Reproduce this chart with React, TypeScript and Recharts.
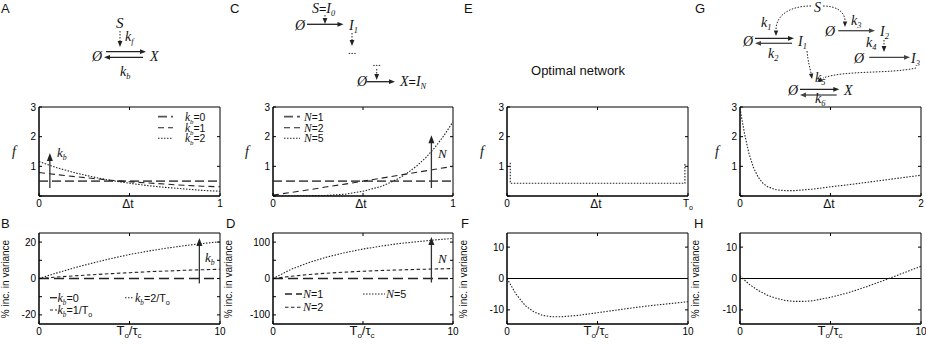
import { LineChart, Line, XAxis, YAxis, ReferenceLine, ReferenceArea } from 'recharts';

// ---------------- data ----------------
// A: f(Δt) for three k_b values
const dtA = [0, 0.1, 0.2, 0.3, 0.4, 0.5, 0.6, 0.7, 0.8, 0.9, 1];
const fA_kb0 = [0.5, 0.5, 0.5, 0.5, 0.5, 0.5, 0.5, 0.5, 0.5, 0.5, 0.5];
const fA_kb1 = [0.79, 0.72, 0.65, 0.59, 0.53, 0.48, 0.44, 0.4, 0.36, 0.33, 0.31];
const fA_kb2 = [1.16, 0.95, 0.78, 0.64, 0.52, 0.43, 0.35, 0.29, 0.24, 0.19, 0.16];

// B: % increase in variance vs To/τc
const tB = [0, 1, 2, 3, 4, 5, 6, 7, 8, 9, 10];
const vB_kb0 = [0, 0, 0, 0, 0, 0, 0, 0, 0, 0, 0];
const vB_kb1 = [0, 0.8, 1.5, 2.1, 2.7, 3.2, 3.7, 4.1, 4.5, 4.8, 5.1];
const vB_kb2 = [0, 3.1, 6.0, 8.6, 11.0, 13.2, 15.0, 16.6, 18.0, 19.2, 20.2];

// C: f(Δt) for cascades of length N
const dtC = [0, 0.1, 0.2, 0.3, 0.4, 0.5, 0.6, 0.7, 0.8, 0.9, 1];
const fC_N1 = [0.5, 0.5, 0.5, 0.5, 0.5, 0.5, 0.5, 0.5, 0.5, 0.5, 0.5];
const fC_N2 = [0.03, 0.12, 0.21, 0.31, 0.4, 0.5, 0.6, 0.7, 0.8, 0.9, 1.0];
const dtC5 = [0, 0.1, 0.2, 0.3, 0.4, 0.5, 0.6, 0.65, 0.7, 0.75, 0.8, 0.85, 0.9, 0.95, 1];
const fC_N5 = [0, 0, 0.01, 0.02, 0.06, 0.16, 0.32, 0.45, 0.6, 0.79, 1.02, 1.3, 1.64, 2.04, 2.5];

// D
const tD = [0, 1, 2, 3, 4, 5, 6, 7, 8, 9, 10];
const vD_N1 = [0, 0, 0, 0, 0, 0, 0, 0, 0, 0, 0];
const vD_N2 = [0, 6, 11, 14.5, 17.5, 20, 22, 23.5, 25, 26.2, 27.3];
const vD_N5 = [0, 25, 44, 59, 71, 81, 89, 96, 101, 106, 110];

// E: optimal network
const dtE = [0.018, 0.018, 0.983, 0.983];
const fE = [1.12, 0.43, 0.43, 1.12];

// F
const tF = [0, 0.5, 1, 1.5, 2, 2.5, 3, 4, 5, 6, 7, 8, 9, 10];
const vF = [0, -5, -8.6, -10.7, -11.8, -12.2, -12.2, -11.7, -10.9, -10.1, -9.3, -8.6, -8, -7.4];

// G
const dtG = [0, 0.05, 0.1, 0.15, 0.2, 0.25, 0.3, 0.4, 0.5, 0.6, 0.8, 1, 1.2, 1.4, 1.6, 1.8, 2];
const fG = [2.95, 2.1, 1.42, 0.95, 0.64, 0.44, 0.32, 0.21, 0.18, 0.18, 0.23, 0.31, 0.38, 0.46, 0.54, 0.62, 0.7];

// H
const tH = [0, 0.5, 1, 1.5, 2, 2.5, 3, 3.5, 4, 5, 6, 7, 8, 9, 10];
const vH = [0.8, -1.8, -3.8, -5.3, -6.3, -7, -7.3, -7.3, -7.1, -6, -4.5, -2.6, -0.5, 1.7, 3.9];

// arrows drawn inside the plots (data coords)
const arrowA = [{ x: 0.06, y: 0.27 }, { x: 0.06, y: 1.45 }];
const arrowB = [{ x: 8.86, y: -2.7 }, { x: 8.86, y: 22.3 }];
const arrowC = [{ x: 0.88, y: 0.27 }, { x: 0.88, y: 2.05 }];
const arrowD = [{ x: 8.8, y: -11 }, { x: 8.8, y: 114 }];

// ticks
const ticksF = [0, 1, 2, 3];
const ticksDt = [0, 0.5, 1];
const ticksDtG = [0, 1, 2];
const ticksT = [0, 5, 10];
const ticksB = [-20, -10, 0, 10, 20];
const ticksD = [-100, -50, 0, 50, 100];
const ticksFH = [-10, 0, 10];

// ---------------- drawing ----------------
const SANS = 'Liberation Sans, Arial, sans-serif';
const SERIF = 'Liberation Serif, Times New Roman, serif';
const INK = '#222';
const DOT = '1.5 1.5';

const YW = 34, XH = 22, MT = 4, MR = 8;
const TICK = 3; // px, inner tick length

const zip = (xs: number[], ys: number[]) => xs.map((x, i) => ({ x, y: ys[i] }));

type Series = { xs: number[]; ys: number[]; stroke: string; width: number; dash?: string };

const ArrowShape = (p: any) => {
  const { x1, y1, x2, y2 } = p;
  return (
    <g>
      <line x1={x1} y1={y1} x2={x2} y2={y2 + 6} stroke="#333" strokeWidth={1.3} />
      <polygon points={`${x2},${y2} ${x2 - 3},${y2 + 8} ${x2 + 3},${y2 + 8}`} fill="#222" />
    </g>
  );
};

function Plot(props: any) {
  const { left, top, w, h, xDom, yDom, xTicks, yTicks, xLab, yLab, series, arrow, zero } = props;
  const xTick = (p: any) => {
    const lab = xLab[p.payload.value];
    if (lab == null) return <g />;
    return (
      <text x={p.x} y={p.y} dy="0.71em" textAnchor="middle" fontSize={10} fontFamily={SANS} fill="#000">
        {lab}
      </text>
    );
  };
  const yTick = (p: any) => {
    const v = p.payload.value;
    if (!yLab.includes(v)) return <g />;
    return (
      <text x={p.x} y={p.y} dy="0.35em" textAnchor="end" fontSize={10} fontFamily={SANS} fill="#000">
        {String(v)}
      </text>
    );
  };
  // inner tick marks on the top and right edges (MATLAB box style)
  const dy = ((yDom[1] - yDom[0]) / h) * TICK;
  const dx = ((xDom[1] - xDom[0]) / w) * TICK;
  const topTicks = xTicks.filter((t: number) => t > xDom[0] && t < xDom[1]);
  const rightTicks = yTicks.filter((t: number) => t > yDom[0] && t < yDom[1]);
  return (
    <div style={{ position: 'absolute', left: left - YW, top: top - MT }}>
      <LineChart width={YW + w + MR} height={MT + h + XH} margin={{ top: MT, right: MR, bottom: 0, left: 0 }}>
        <XAxis dataKey="x" type="number" domain={xDom} ticks={xTicks} interval={0} allowDataOverflow
          height={XH} tickSize={-TICK} tickMargin={7} stroke="#000" tick={xTick} />
        <YAxis type="number" domain={yDom} ticks={yTicks} interval={0} allowDataOverflow
          width={YW} tickSize={-TICK} tickMargin={6} stroke="#000" tick={yTick} />
        <ReferenceArea x1={xDom[0]} x2={xDom[1]} y1={yDom[0]} y2={yDom[1]} fill="none" fillOpacity={0}
          stroke="#000" strokeWidth={1} ifOverflow="visible" />
        {topTicks.map((t: number) => (
          <ReferenceLine key={'t' + t} segment={[{ x: t, y: yDom[1] }, { x: t, y: yDom[1] - dy }]} stroke="#000" />
        ))}
        {rightTicks.map((t: number) => (
          <ReferenceLine key={'r' + t} segment={[{ x: xDom[1], y: t }, { x: xDom[1] - dx, y: t }]} stroke="#000" />
        ))}
        {zero && <ReferenceLine y={0} stroke="#000" strokeWidth={1} />}
        {series.map((s: Series, i: number) => (
          <Line key={i} data={zip(s.xs, s.ys)} dataKey="y" type="linear" dot={false} activeDot={false}
            isAnimationActive={false} stroke={s.stroke} strokeWidth={s.width} strokeDasharray={s.dash} />
        ))}
        {arrow && <ReferenceLine segment={arrow} shape={ArrowShape} ifOverflow="visible" />}
      </LineChart>
    </div>
  );
}

// text with italic symbols / subscripts
type Part = [string, 'i' | 'sub' | 'n' | 'nsub'];
function Rich({ x, y, parts, size = 14, anchor = 'start' }: { x: number; y: number; parts: Part[]; size?: number; anchor?: any }) {
  let off = 0;
  return (
    <text x={x} y={y} textAnchor={anchor} fill="#111">
      {parts.map(([t, k], i) => {
        const isSub = k === 'sub' || k === 'nsub';
        const serif = k === 'i' || k === 'sub';
        const target = isSub ? 3 : 0;
        const d = target - off;
        off = target;
        return (
          <tspan key={i} dy={d} fontFamily={serif ? SERIF : SANS} fontStyle={serif ? 'italic' : 'normal'}
            fontSize={isSub ? size * 0.6 : k === 'n' ? size * 0.9 : size}>
            {t}
          </tspan>
        );
      })}
    </text>
  );
}

function headPts(tx: number, ty: number, fx: number, fy: number, len = 6, wid = 2.4) {
  const dx = tx - fx, dy = ty - fy;
  const L = Math.hypot(dx, dy) || 1;
  const ux = dx / L, uy = dy / L;
  const bx = tx - ux * len, by = ty - uy * len;
  return `${tx},${ty} ${bx - uy * wid},${by + ux * wid} ${bx + uy * wid},${by - ux * wid}`;
}

function Arr({ x1, y1, x2, y2, dotted, c = INK }: any) {
  const L = Math.hypot(x2 - x1, y2 - y1);
  const ex = x2 - ((x2 - x1) / L) * 5, ey = y2 - ((y2 - y1) / L) * 5;
  return (
    <g>
      <line x1={x1} y1={y1} x2={ex} y2={ey} stroke={c} strokeWidth={dotted ? 1 : 1.3} strokeDasharray={dotted ? DOT : undefined} />
      <polygon points={headPts(x2, y2, x1, y1)} fill={c} />
    </g>
  );
}

function CurveArr({ d, tip, from }: { d: string; tip: [number, number]; from: [number, number] }) {
  return (
    <g>
      <path d={d} fill="none" stroke={INK} strokeWidth={1} strokeDasharray={DOT} />
      <polygon points={headPts(tip[0], tip[1], from[0], from[1], 5.5, 2.2)} fill={INK} />
    </g>
  );
}

const kb = (tail: string): Part[] => [['k', 'i'], ['b', 'sub'], [tail, 'n']];
const To: Part[] = [['T', 'n'], ['o', 'nsub']];

function TauLabel({ cx }: { cx: number }) {
  return (
    <text x={cx} y={335} textAnchor="middle" fontFamily={SANS} fontSize={13} fill="#111">
      T<tspan fontSize={8} dy={3}>o</tspan>
      <tspan dy={-3}>/τ</tspan>
      <tspan fontSize={8} dy={3}>c</tspan>
    </text>
  );
}

function VarLabel({ x }: { x: number }) {
  return (
    <text x={x} y={279} transform={`rotate(-90 ${x} 279)`} textAnchor="middle" fontFamily={SANS} fontSize={10} fill="#111">
      % inc. in variance
    </text>
  );
}

function Overlay() {
  const L = (p: any) => <text fontFamily={SANS} fontSize={13} fill="#111" {...p} />;
  return (
    <svg width={926} height={347} style={{ position: 'absolute', left: 0, top: 0, pointerEvents: 'none' }}>
      {/* panel letters */}
      <L x={1} y={13}>A</L>
      <L x={230} y={13}>C</L>
      <L x={464} y={13}>E</L>
      <L x={695} y={13}>G</L>
      <L x={1} y={228}>B</L>
      <L x={226} y={228}>D</L>
      <L x={461} y={228}>F</L>
      <L x={694} y={228}>H</L>

      {/* A diagram */}
      <Rich x={116} y={28} parts={[['S', 'i']]} size={15} />
      <Arr x1={120} y1={31} x2={120} y2={47} dotted />
      <Rich x={125} y={41} parts={[['k', 'i'], ['f', 'sub']]} />
      <Rich x={92} y={61} parts={[['Ø', 'i']]} />
      <Arr x1={106} y1={51.7} x2={146} y2={51.7} />
      <Arr x1={143} y1={57.3} x2={104} y2={57.3} />
      <Rich x={150} y={61} parts={[['X', 'i']]} />
      <Rich x={120} y={76} parts={[['k', 'i'], ['b', 'sub']]} />

      {/* C diagram */}
      <Rich x={312} y={13} parts={[['S', 'i'], ['=', 'n'], ['I', 'i'], ['0', 'sub']]} />
      <Arr x1={325} y1={15} x2={325} y2={24} dotted />
      <Rich x={295} y={30} parts={[['Ø', 'i']]} />
      <Arr x1={307} y1={24.3} x2={343.5} y2={24.3} />
      <Rich x={349} y={30} parts={[['I', 'i'], ['1', 'sub']]} />
      <Arr x1={352} y1={33} x2={352} y2={46} dotted />
      <text x={352} y={54} textAnchor="middle" fontFamily={SERIF} fontSize={11}>...</text>
      <text x={376.5} y={66} textAnchor="middle" fontFamily={SERIF} fontSize={11}>...</text>
      <Arr x1={376.7} y1={69} x2={376.7} y2={80} dotted />
      <Rich x={357} y={86} parts={[['Ø', 'i']]} />
      <Arr x1={366.7} y1={81.7} x2={395} y2={81.7} />
      <Rich x={400} y={86} parts={[['X', 'i'], ['=', 'n'], ['I', 'i'], ['N', 'sub']]} />

      {/* E title */}
      <text x={578} y={75} textAnchor="middle" fontFamily={SANS} fontSize={13} fill="#111">Optimal network</text>

      {/* G diagram */}
      <Rich x={814} y={12} parts={[['S', 'i']]} size={14} />
      <CurveArr d="M 811 6 C 790 6 776 15 776 30" tip={[776, 36]} from={[776, 29]} />
      <CurveArr d="M 823 6 C 838 6 845 13 845 21" tip={[845, 27]} from={[845, 20]} />
      <Rich x={761} y={27} parts={[['k', 'i'], ['1', 'sub']]} />
      <Rich x={743} y={46} parts={[['Ø', 'i']]} />
      <Arr x1={755} y1={38.3} x2={794} y2={38.3} />
      <Arr x1={792} y1={43.3} x2={755} y2={43.3} c="#444" />
      <Rich x={798} y={46} parts={[['I', 'i'], ['1', 'sub']]} />
      <Rich x={768} y={58} parts={[['k', 'i'], ['2', 'sub']]} />
      <Rich x={825} y={35.5} parts={[['Ø', 'i']]} />
      <Arr x1={838.3} y1={30.7} x2={875} y2={30.7} c="#444" />
      <Rich x={851} y={25} parts={[['k', 'i'], ['3', 'sub']]} />
      <Rich x={880} y={35.5} parts={[['I', 'i'], ['2', 'sub']]} />
      <Arr x1={884} y1={40} x2={884} y2={52} dotted />
      <Rich x={866} y={47} parts={[['k', 'i'], ['4', 'sub']]} />
      <Rich x={854} y={63} parts={[['Ø', 'i']]} />
      <Arr x1={869.3} y1={57.3} x2={910} y2={57.3} c="#444" />
      <Rich x={911} y={63} parts={[['I', 'i'], ['3', 'sub']]} />
      <CurveArr d="M 807 51 C 808 62 810 68 811 73" tip={[812, 79]} from={[811, 73]} />
      <CurveArr d="M 916 68 C 890 74 845 70 823 78" tip={[817, 82]} from={[824, 78]} />
      <Rich x={815} y={81.7} parts={[['k', 'i'], ['5', 'sub']]} />
      <Rich x={788} y={95} parts={[['Ø', 'i']]} />
      <Arr x1={800} y1={89.3} x2={839.3} y2={89.3} />
      <Arr x1={836.7} y1={95} x2={800} y2={95} c="#444" />
      <Rich x={844} y={95} parts={[['X', 'i']]} />
      <Rich x={815} y={103} parts={[['k', 'i'], ['6', 'sub']]} />

      {/* f labels */}
      <Rich x={14} y={156} parts={[['f', 'i']]} anchor="middle" />
      <Rich x={247} y={156} parts={[['f', 'i']]} anchor="middle" />
      <Rich x={482} y={156} parts={[['f', 'i']]} anchor="middle" />
      <Rich x={717} y={156} parts={[['f', 'i']]} anchor="middle" />

      {/* Δt labels */}
      {[128, 361, 596, 829].map((cx) => (
        <text key={cx} x={cx} y={208} textAnchor="middle" fontFamily={SANS} fontSize={12} fill="#111">Δt</text>
      ))}
      {[129, 362, 596, 830].map((cx) => <TauLabel key={cx} cx={cx} />)}
      <VarLabel x={9} />
      <VarLabel x={232} />
      <VarLabel x={467} />
      <VarLabel x={699} />

      {/* legend A */}
      <line x1={158} x2={173} y1={116.7} y2={116.7} stroke="#555" strokeWidth={1.8} strokeDasharray="9 4" />
      <line x1={158} x2={173} y1={127.7} y2={127.7} stroke={INK} strokeWidth={1.1} strokeDasharray="6 4" />
      <line x1={158} x2={173} y1={138.3} y2={138.3} stroke={INK} strokeWidth={1.1} strokeDasharray={DOT} />
      <Rich x={185} y={120.5} parts={kb('=0')} size={11.5} />
      <Rich x={185} y={131.5} parts={kb('=1')} size={11.5} />
      <Rich x={185} y={142} parts={kb('=2')} size={11.5} />
      <Rich x={57} y={157} parts={[['k', 'i'], ['b', 'sub']]} size={13} />

      {/* legend C */}
      <line x1={284} x2={300} y1={116.7} y2={116.7} stroke="#555" strokeWidth={1.8} strokeDasharray="9 4" />
      <line x1={284} x2={300} y1={127.7} y2={127.7} stroke={INK} strokeWidth={1.1} strokeDasharray="6 4" />
      <line x1={284} x2={300} y1={138.3} y2={138.3} stroke={INK} strokeWidth={1.1} strokeDasharray={DOT} />
      <Rich x={304} y={120.5} parts={[['N', 'i'], ['=1', 'n']]} size={11.5} />
      <Rich x={304} y={131.5} parts={[['N', 'i'], ['=2', 'n']]} size={11.5} />
      <Rich x={304} y={142} parts={[['N', 'i'], ['=5', 'n']]} size={11.5} />
      <Rich x={438} y={158} parts={[['N', 'i']]} size={13} />

      {/* legend B */}
      <line x1={50} x2={57} y1={297.7} y2={297.7} stroke={INK} strokeWidth={1.3} />
      <Rich x={57.5} y={301.5} parts={kb('=0')} size={12} />
      <line x1={125} x2={134} y1={297.7} y2={297.7} stroke={INK} strokeWidth={1.1} strokeDasharray={DOT} />
      <Rich x={135} y={301.5} parts={[...kb('=2/'), ...To]} size={12} />
      <line x1={50} x2={57} y1={310} y2={310} stroke={INK} strokeWidth={1.1} strokeDasharray="3 2" />
      <Rich x={57.5} y={314} parts={[...kb('=1/'), ...To]} size={12} />
      <Rich x={205} y={262} parts={[['k', 'i'], ['b', 'sub']]} size={13} />

      {/* legend D */}
      <line x1={285} x2={302} y1={294} y2={294} stroke={INK} strokeWidth={1.3} strokeDasharray="7 4" />
      <Rich x={303} y={298} parts={[['N', 'i'], ['=1', 'n']]} size={12} />
      <line x1={363} x2={385} y1={294} y2={294} stroke={INK} strokeWidth={1.1} strokeDasharray={DOT} />
      <Rich x={386} y={298} parts={[['N', 'i'], ['=5', 'n']]} size={12} />
      <line x1={285} x2={302} y1={307.3} y2={307.3} stroke={INK} strokeWidth={1.1} strokeDasharray="3.5 2.5" />
      <Rich x={303} y={311.3} parts={[['N', 'i'], ['=2', 'n']]} size={12} />
      <Rich x={438} y={263} parts={[['N', 'i']]} size={13} />
    </svg>
  );
}

const topDom = [0, 3];
const botTop = 233, botH = 91, topTop = 107, topH = 89;

export default function App() {
  const dotted = (xs: number[], ys: number[]): Series => ({ xs, ys, stroke: INK, width: 1.1, dash: DOT });
  return (
    <div style={{ position: 'absolute', left: 0, top: 0, width: 926, height: 347, background: '#fff', overflow: 'hidden' }}>
      {/* A */}
      <Plot left={39} top={topTop} w={181} h={topH} xDom={[0, 1]} yDom={topDom} xTicks={ticksDt} yTicks={ticksF}
        xLab={{ 0: '0', 1: '1' }} yLab={[1, 2, 3]} arrow={arrowA}
        series={[
          { xs: dtA, ys: fA_kb0, stroke: '#555', width: 1.8, dash: '9 4' },
          { xs: dtA, ys: fA_kb1, stroke: INK, width: 1.1, dash: '6 4' },
          dotted(dtA, fA_kb2),
        ]} />
      {/* B */}
      <Plot left={39} top={botTop} w={181} h={botH} xDom={[0, 10]} yDom={[-25, 25]} xTicks={ticksT} yTicks={ticksB}
        xLab={{ 0: '0', 10: '10' }} yLab={[-20, 0, 20]} arrow={arrowB}
        series={[
          { xs: tB, ys: vB_kb0, stroke: INK, width: 1.3, dash: '10 5' },
          { xs: tB, ys: vB_kb1, stroke: INK, width: 1.1, dash: '3.5 2.5' },
          dotted(tB, vB_kb2),
        ]} />
      {/* C */}
      <Plot left={273} top={topTop} w={180} h={topH} xDom={[0, 1]} yDom={topDom} xTicks={ticksDt} yTicks={ticksF}
        xLab={{ 0: '0', 1: '1' }} yLab={[1, 2, 3]} arrow={arrowC}
        series={[
          { xs: dtC, ys: fC_N1, stroke: '#555', width: 1.8, dash: '9 4' },
          { xs: dtC, ys: fC_N2, stroke: INK, width: 1.1, dash: '6 4' },
          dotted(dtC5, fC_N5),
        ]} />
      {/* D */}
      <Plot left={273} top={botTop} w={180} h={botH} xDom={[0, 10]} yDom={[-125, 125]} xTicks={ticksT} yTicks={ticksD}
        xLab={{ 0: '0', 10: '10' }} yLab={[-100, 0, 100]} arrow={arrowD}
        series={[
          { xs: tD, ys: vD_N1, stroke: INK, width: 1.3, dash: '10 5' },
          { xs: tD, ys: vD_N2, stroke: INK, width: 1.1, dash: '3.5 2.5' },
          dotted(tD, vD_N5),
        ]} />
      {/* E */}
      <Plot left={507} top={topTop} w={181} h={topH} xDom={[0, 1]} yDom={topDom} xTicks={ticksDt} yTicks={ticksF}
        xLab={{ 0: '0', 1: <>T<tspan fontSize={7} dy={3}>o</tspan></> }} yLab={[1, 2, 3]}
        series={[dotted(dtE, fE)]} />
      {/* F */}
      <Plot left={507} top={botTop} w={181} h={botH} xDom={[0, 10]} yDom={[-14.5, 14.5]} xTicks={ticksT} yTicks={ticksFH}
        xLab={{ 0: '0', 10: '10' }} yLab={[-10, 0, 10]} zero
        series={[dotted(tF, vF)]} />
      {/* G */}
      <Plot left={740} top={topTop} w={181} h={topH} xDom={[0, 2]} yDom={topDom} xTicks={ticksDtG} yTicks={ticksF}
        xLab={{ 0: '0', 2: '2' }} yLab={[1, 2, 3]}
        series={[dotted(dtG, fG)]} />
      {/* H */}
      <Plot left={740} top={botTop} w={181} h={botH} xDom={[0, 10]} yDom={[-14.5, 14.5]} xTicks={ticksT} yTicks={ticksFH}
        xLab={{ 0: '0', 10: '10' }} yLab={[-10, 0, 10]} zero
        series={[dotted(tH, vH)]} />
      <Overlay />
    </div>
  );
}
